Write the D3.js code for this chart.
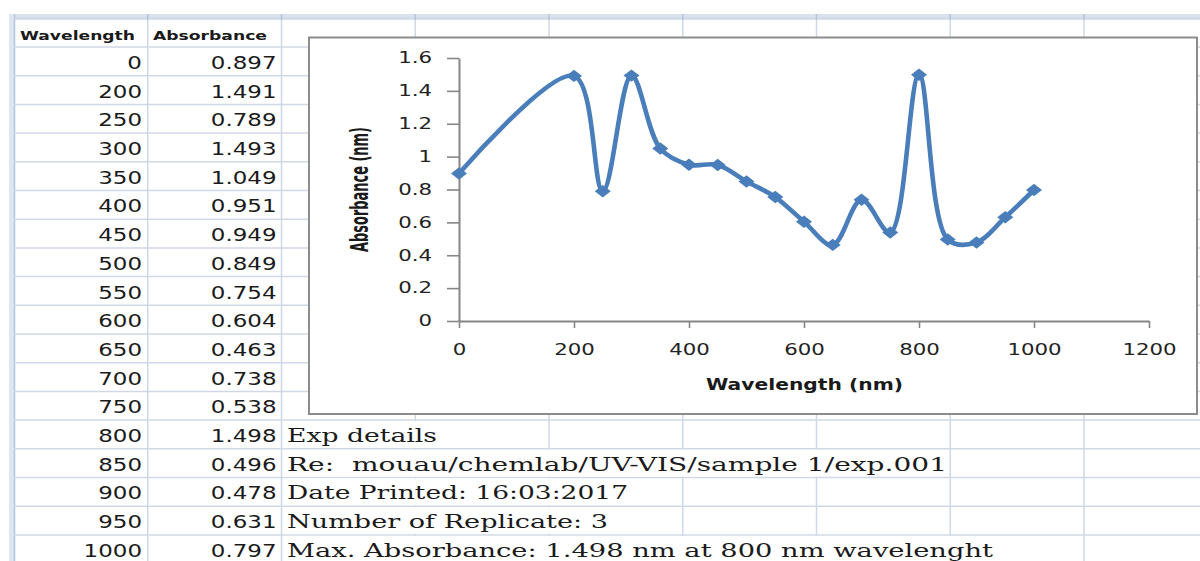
<!DOCTYPE html>
<html><head><meta charset="utf-8">
<script src="https://cdn.jsdelivr.net/npm/d3@7"></script>
<style>html,body{margin:0;padding:0;background:#fff;overflow:hidden}</style>
</head><body>
<svg id="c" width="1200" height="561"></svg>
<script>
// ---------- data ----------
const wavelengths = [0,200,250,300,350,400,450,500,550,600,650,700,750,800,850,900,950,1000];
const absorbance  = [0.897,1.491,0.789,1.493,1.049,0.951,0.949,0.849,0.754,0.604,0.463,0.738,0.538,1.498,0.496,0.478,0.631,0.797];
const headers = ["Wavelength","Absorbance"];
const details = ["Exp details","Re:  mouau/chemlab/UV-VIS/sample 1/exp.001","Date Printed: 16:03:2017","Number of Replicate: 3","Max. Absorbance: 1.498 nm at 800 nm wavelenght"];
const xTicks = [0,200,400,600,800,1000,1200];
const xTickLabels = ["0","200","400","600","800","1000","1200"];
const yTicks = [0,0.2,0.4,0.6,0.8,1,1.2,1.4,1.6];
const yTickLabels = ["0","0.2","0.4","0.6","0.8","1","1.2","1.4","1.6"];
const xTitle = "Wavelength (nm)";
const yTitle = "Absorbance (nm)";

// ---------- layout ----------
const svg = d3.select("#c");
const W = 1200, H = 561;
const GRID = "#d0d7e5";
const colX = d3.range(9).map(k => 14 + 133.75*k);
const rowTop = i => 47 + 28.7*i;          // data row i top
const rowBase = i => 68.9 + 28.7*i;       // data row i baseline
const SX = 1.35;                          // horizontal stretch of the screenshot

svg.append("rect").attr("width",W).attr("height",H).attr("fill","#fff");

// header strip and row-header edge
svg.append("rect").attr("x",9).attr("y",14).attr("width",W-9).attr("height",6).attr("fill","#d9e2ee");
svg.append("rect").attr("x",9).attr("y",14).attr("width",5).attr("height",H-14).attr("fill","#dde6f1");
svg.append("line").attr("x1",14.5).attr("x2",14.5).attr("y1",14).attr("y2",H).attr("stroke","#b5c6dc").attr("stroke-width",1.5);

// horizontal grid lines
svg.append("g").selectAll("line").data(d3.range(-1,18)).join("line")
  .attr("x1",14).attr("x2",W).attr("y1",k=>rowTop(k)).attr("y2",k=>rowTop(k))
  .attr("stroke",GRID).attr("stroke-width",1.5);
// vertical grid lines
svg.append("g").selectAll("line").data(colX.slice(1)).join("line")
  .attr("x1",d=>d).attr("x2",d=>d).attr("y1",14).attr("y2",H)
  .attr("stroke",GRID).attr("stroke-width",1.5);
svg.append("g").selectAll("line").data(colX.slice(1)).join("line")
  .attr("x1",d=>d).attr("x2",d=>d).attr("y1",14).attr("y2",20)
  .attr("stroke","#b4c4d9").attr("stroke-width",1.5);

function stretchText(sel, sx, anchor, ax){
  sel.each(function(){
    const t = d3.select(this);
    const len = this.getComputedTextLength();
    const L = len*sx;
    t.attr("text-anchor","start").attr("textLength",L).attr("lengthAdjust","spacingAndGlyphs");
    if(anchor==="end") t.attr("x", ax - L);
    else if(anchor==="middle") t.attr("x", ax - L/2);
    else t.attr("x", ax);
  });
}

// headers
const hdr = svg.append("g").attr("font-family","'DejaVu Sans', Verdana, sans-serif").attr("font-weight","bold").attr("font-size",13).attr("fill","#1a1a1a");
hdr.append("text").text(headers[0]).attr("x",20).attr("y",39.5).attr("textLength",115).attr("lengthAdjust","spacingAndGlyphs");
hdr.append("text").text(headers[1]).attr("x",153).attr("y",39.5).attr("textLength",114).attr("lengthAdjust","spacingAndGlyphs");

// table values
const tbl = svg.append("g").attr("font-family","'DejaVu Sans', Verdana, sans-serif").attr("font-size",17).attr("fill","#1a1a1a");
wavelengths.forEach((w,i)=>{
  tbl.append("text").text(String(w)).attr("y",rowBase(i)).call(s=>stretchText(s,SX,"end",142));
  tbl.append("text").text(d3.format(".3f")(absorbance[i])).attr("y",rowBase(i)).call(s=>stretchText(s,SX,"end",276.5));
});

// details text with overflow hiding gridlines
const detWidths = [150,660,341,321,706];
const detG = svg.append("g");
details.forEach((t,j)=>{
  const i = 13 + j;
  const endX = 287 + detWidths[j];
  const hidden = colX.filter(c => c > 283 && c < endX);
  if(hidden.length){
    detG.append("rect").attr("x",283).attr("y",rowTop(i)+1).attr("width",d3.max(hidden)+1.5-283).attr("height",26.7).attr("fill","#fff");
  }
  detG.append("text").text(t).attr("x",287).attr("y",rowBase(i))
    .attr("font-family","'DejaVu Serif', 'Liberation Serif', serif").attr("font-size",18).attr("fill","#1a1a1a")
    .style("white-space","pre")
    .attr("textLength",detWidths[j]).attr("lengthAdjust","spacingAndGlyphs");
});

// ---------- chart ----------
svg.append("rect").attr("x",309).attr("y",37.5).attr("width",888).attr("height",376.5)
  .attr("fill","#fff").attr("stroke","#8c8c8c").attr("stroke-width",2);

const x = d3.scaleLinear().domain([0,1200]).range([459,1149]);
const y = d3.scaleLinear().domain([0,1.6]).range([321,58]);
const AX = "#868686";

const gx = svg.append("g").attr("transform","translate(0,321)")
  .call(d3.axisBottom(x).tickValues(xTicks).tickFormat((d,i)=>xTickLabels[i]).tickSize(7).tickSizeOuter(0));
const gy = svg.append("g").attr("transform","translate(459,0)")
  .call(d3.axisLeft(y).tickValues(yTicks).tickFormat((d,i)=>yTickLabels[i]).tickSize(12).tickSizeOuter(0));
[gx,gy].forEach(g=>{
  g.select(".domain").attr("stroke",AX).attr("stroke-width",2);
  g.selectAll(".tick line").attr("stroke",AX).attr("stroke-width",1.6);
  g.selectAll("text").attr("font-family","'DejaVu Sans', Verdana, sans-serif").attr("font-size",15).attr("fill","#222");
});
gx.selectAll("text").attr("y",34).attr("dy",0).call(s=>stretchText(s,1.42,"middle",0));
gy.selectAll("text").attr("dy","0.32em").call(s=>stretchText(s,1.42,"end",-27));

// axis titles
svg.append("text").text(xTitle).attr("x",706).attr("y",390)
  .attr("font-family","'DejaVu Sans', Verdana, sans-serif").attr("font-weight","bold").attr("font-size",16).attr("fill","#1a1a1a")
  .attr("textLength",197).attr("lengthAdjust","spacingAndGlyphs");
svg.append("text").text(yTitle)
  .attr("transform","translate(368,189.5) scale(1.4,1) rotate(-90)")
  .attr("x",-62.5).attr("y",0)
  .attr("font-family","'Liberation Sans Narrow', 'DejaVu Sans Condensed', 'Liberation Sans', sans-serif").attr("font-weight","bold").attr("font-size",18).attr("fill","#1a1a1a")
  .attr("textLength",125).attr("lengthAdjust","spacingAndGlyphs");

// series
const pts = wavelengths.map((w,i)=>[w,absorbance[i]]);
const BLUE = "#4a7ebb";
svg.append("path").datum(pts)
  .attr("d", d3.line().x(d=>x(d[0])).y(d=>y(d[1])).curve(d3.curveCatmullRom.alpha(0.5)))
  .attr("fill","none").attr("stroke",BLUE).attr("stroke-width",4.6).attr("stroke-linejoin","round");
svg.append("g").selectAll("path").data(pts).join("path")
  .attr("d","M0,-6.2L8,0L0,6.2L-8,0Z")
  .attr("transform",d=>`translate(${x(d[0])},${y(d[1])})`)
  .attr("fill",BLUE);
</script>
</body></html>
